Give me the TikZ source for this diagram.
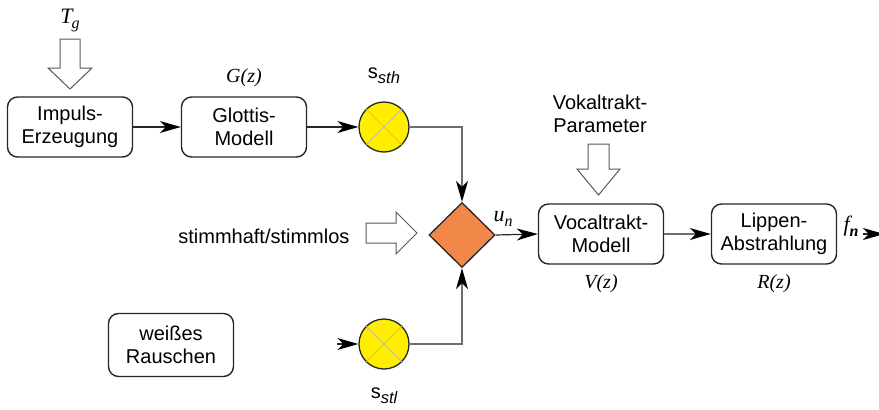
\documentclass[tikz,border=0pt]{standalone}
\usepackage{fontspec}
\setmainfont{Liberation Sans}
\newfontfamily\serifmath{Liberation Serif}
\usetikzlibrary{arrows.meta,shapes.geometric}
\definecolor{sumyellow}{HTML}{FFEE00}
\definecolor{mixorange}{HTML}{F2874A}
\definecolor{wire}{HTML}{6E6E6E}
\begin{document}
\begin{tikzpicture}[x=1pt,y=-1pt,
  txt/.style={font=\fontsize{20}{23}\selectfont},
  box/.style={txt,draw=black!85,line width=1.4pt,rounded corners=10pt,
    minimum width=125pt,minimum height=60pt,align=center,inner sep=0pt},
  sumnode/.style={circle,draw=black!85,line width=1.3pt,fill=sumyellow,
    minimum size=50pt,inner sep=0pt},
  cross/.style={draw=black!30,line width=0.6pt},
  mixer/.style={diamond,draw=black!85,line width=1.3pt,fill=mixorange,
    minimum width=66pt,minimum height=65pt,inner sep=0pt},
  conn/.style={draw=wire,line width=1.2pt,
    -{Stealth[length=21pt,width=12pt,inset=6pt,fill=black,color=black]}},
  hollow/.style={draw=black!65,line width=1pt,fill=white},
  mathlbl/.style={font=\serifmath\itshape\fontsize{20}{22}\selectfont}
]
\useasboundingbox (0,0) rectangle (879,410);

% blocks
\node[box] (imp) at (70,127) {Impuls-\\Erzeugung};
\node[box] (glo) at (244,127) {Glottis-\\Modell};
\node[box] (voc) at (601,234) {Vocaltrakt-\\Modell};
\node[box] (lip) at (774,234) {Lippen-\\Abstrahlung};
\node[box,minimum height=63pt] (noise) at (171,345) {weißes\\Rauschen};

% multipliers with crossed marks
\node[sumnode] (sth) at (384,127) {};
\node[sumnode] (stl) at (384,344) {};
\foreach \m in {sth,stl}{
  \draw[cross] (\m.north west) -- (\m.south east);
  \draw[cross] (\m.north east) -- (\m.south west);
}

% switch voiced/unvoiced
\node[mixer] (mix) at (462,235) {};

% labels
\node[mathlbl,font=\serifmath\itshape\fontsize{22}{24}\selectfont] (tg) at (70,20) {T\kern-1pt\raisebox{-5pt}{\fontsize{16}{18}\selectfont g}};
\node[mathlbl] (gz) at (244,78) {G(z)};
\node[mathlbl] (vz) at (601,284) {V(z)};
\node[mathlbl] (rz) at (774,284) {R(z)};
\node[txt] (ssth) at (384,76) {s\raisebox{-5pt}{\itshape\fontsize{16.5}{18}\selectfont sth}};
\node[txt] (sstl) at (384,396) {s\raisebox{-5pt}{\itshape\fontsize{16.5}{18}\selectfont stl}};
\node[mathlbl,font=\serifmath\itshape\fontsize{22}{24}\selectfont] (un) at (503,219) {u\raisebox{-5pt}{\fontsize{16}{18}\selectfont n}};
\node[mathlbl,font=\serifmath\itshape\fontsize{22}{24}\selectfont] (fn) at (851,226) {f\raisebox{-5pt}{\bfseries\fontsize{16}{18}\selectfont n}};
\node[txt,anchor=east] (vuv) at (353,236) {stimmhaft/stimmlos};
\node[txt,align=center] (vtp) at (600,114) {Vokaltrakt-\\Parameter};

% hollow input arrows
\draw[hollow] (60,39) -- (80,39) -- (80,68) -- (92,68) -- (70,89)
  -- (48,68) -- (60,68) -- cycle;
\draw[hollow] (588,144) -- (609,144) -- (609,169) -- (620,169) -- (598.5,195)
  -- (577,169) -- (588,169) -- cycle;
\draw[hollow] (366,223) -- (396,223) -- (396,212) -- (417,233) -- (396,254)
  -- (396,243) -- (366,243) -- cycle;

% signal path
\coordinate (stlin) at (337,344);
\coordinate (outA) at (863,234);
\coordinate (outB) at (884,234);
\draw[conn,draw=black!85] (imp) -- (glo);
\draw[conn,draw=black!85] (glo) -- (sth);
\draw[conn] (sth.east) -| (mix.north);
\draw[conn] (stl.east) -| (mix.south);
\draw[conn,draw=black!85] (stlin) -- (stl.west);
\draw[conn,draw=black!85] (mix.east) -- (voc.west);
\draw[conn] (voc) -- (lip);
\draw[conn,draw=black!85] (outA) -- (outB);
\end{tikzpicture}
\end{document}
